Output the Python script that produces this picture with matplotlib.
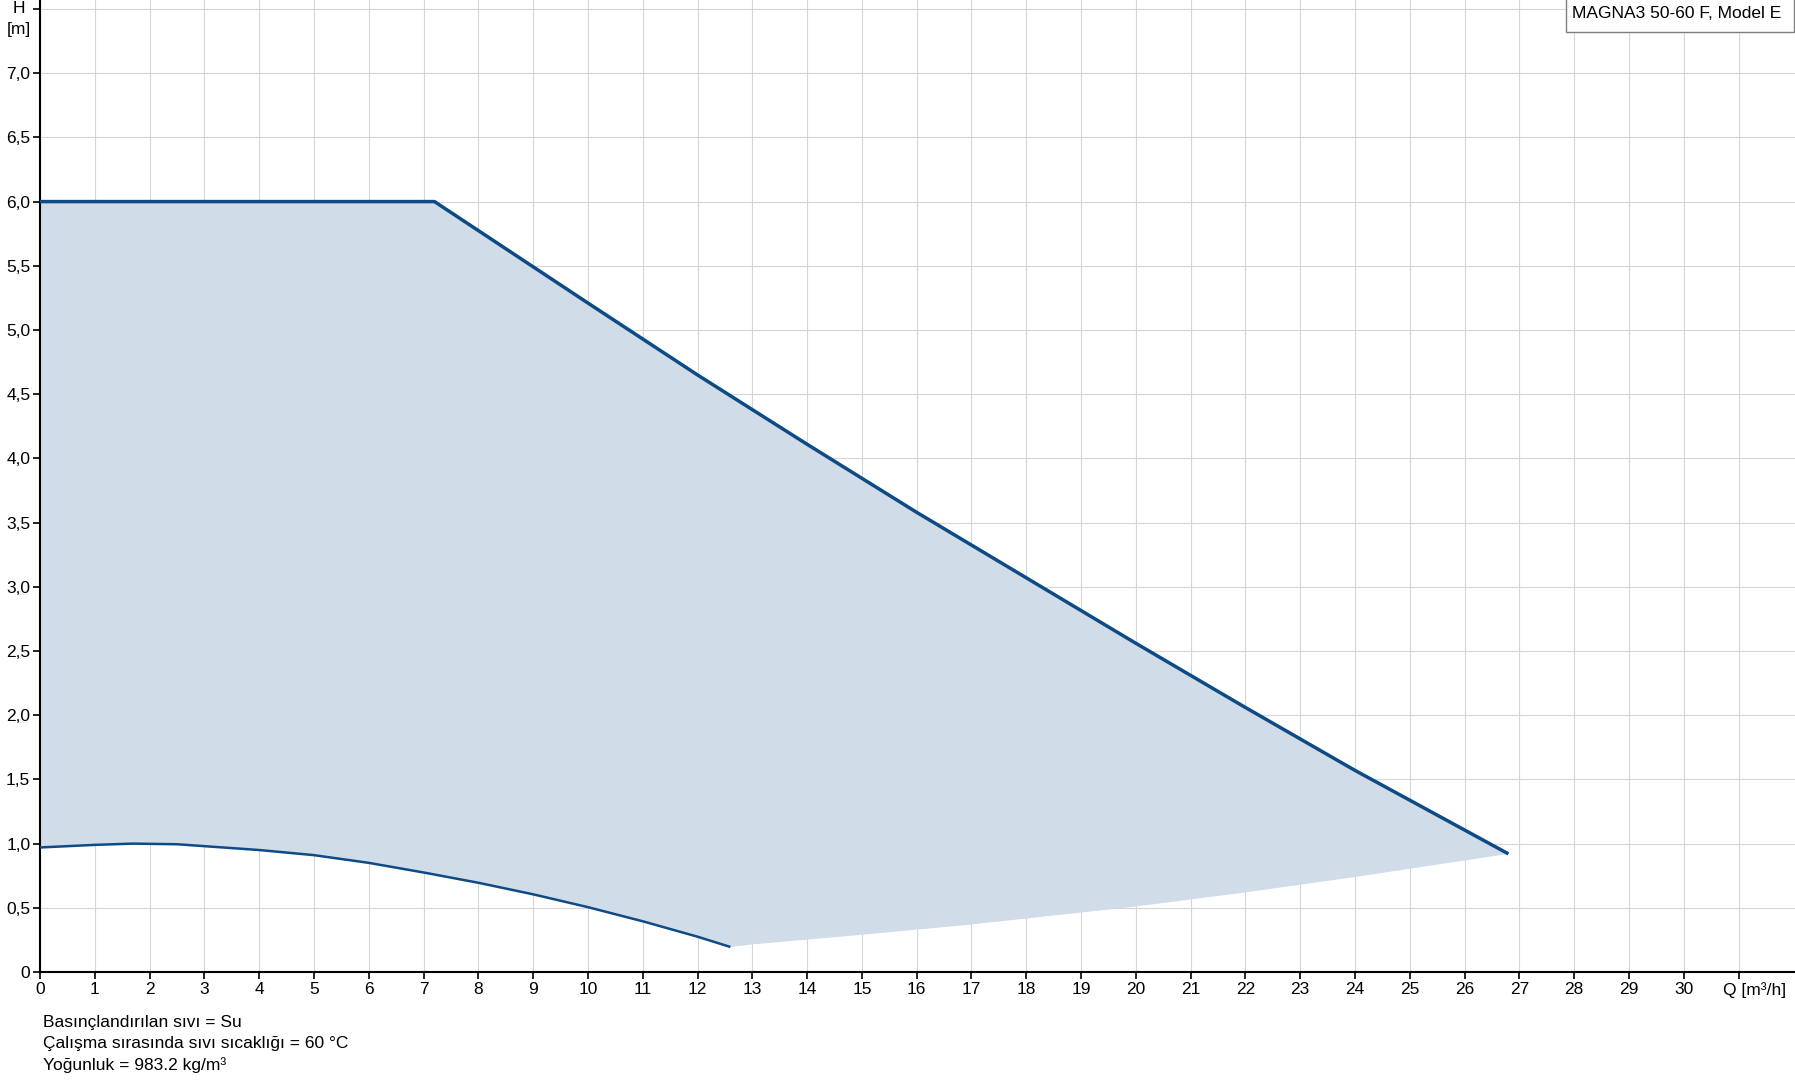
import matplotlib.pyplot as plt
from matplotlib.patches import Rectangle
from matplotlib.transforms import blended_transform_factory

plt.rcParams['font.family'] = ['Liberation Sans', 'DejaVu Sans']

# max curve (Q [m3/h], H [m])
q_max = [0, 7.2, 10, 12, 14, 16, 18, 20, 22, 24, 26.8]
h_max = [6.0, 6.0, 5.21, 4.65, 4.11, 3.58, 3.07, 2.56, 2.06, 1.57, 0.92]

# min curve
q_min = [0, 1, 1.7, 2.5, 3, 4, 5, 6, 7, 8, 9, 10, 11, 12, 12.6]
h_min = [0.97, 0.99, 1.0, 0.995, 0.98, 0.95, 0.91, 0.85, 0.775, 0.695, 0.605, 0.505, 0.395, 0.275, 0.195]

# lower edge of the shaded area (from end of min curve to end of max curve)
q_edge = [12.6, 13, 15, 17, 20, 22, 24, 26.8]
h_edge = [0.195, 0.215, 0.29, 0.37, 0.51, 0.62, 0.74, 0.92]

x_ticks = list(range(0, 32))
x_labels = [str(v) for v in range(0, 31)] + ['']
y_ticks = [i * 0.5 for i in range(16)]
y_labels = ['0'] + [f'{v:.1f}'.replace('.', ',') for v in y_ticks[1:-1]] + ['']

footer = ['Basınçlandırılan sıvı = Su',
          'Çalışma sırasında sıvı sıcaklığı = 60 °C',
          'Yoğunluk = 983.2 kg/m³']

W, H = 1795, 1081
fig = plt.figure(figsize=(W / 100, H / 100), dpi=100)
ax = fig.add_axes([40 / W, (H - 972) / H, 1 - 40 / W, 972 / H])

line_col = '#0D4A86'
fill_col = '#D0DCE7'

poly_q = q_max + q_edge[::-1] + q_min[::-1]
poly_h = h_max + h_edge[::-1] + h_min[::-1]
ax.fill(poly_q, poly_h, color=fill_col, lw=0, zorder=1)
ax.plot(q_max, h_max, color=line_col, lw=2.5, zorder=3, solid_capstyle='butt')
ax.plot(q_min, h_min, color=line_col, lw=1.8, zorder=3, solid_capstyle='butt')

ax.set_xlim(0, 32.03)
ax.set_ylim(0, 7.57)
ax.set_xticks(x_ticks)
ax.set_xticklabels(x_labels)
ax.set_yticks(y_ticks)
ax.set_yticklabels(y_labels)
ax.tick_params(axis='both', direction='out', length=5, width=1.2, labelsize=12.5,
               colors='black', pad=2)
ax.grid(True, color='#D6D6D6', lw=0.8, zorder=0)
ax.set_axisbelow(True)
for s in ['top', 'right']:
    ax.spines[s].set_visible(False)
for s in ['left', 'bottom']:
    ax.spines[s].set_linewidth(1.5)

# axis unit labels
ax.annotate('H', xy=(0, 7.5), xycoords=('axes fraction', 'data'),
            xytext=(-21, 0), textcoords='offset pixels', ha='center', va='center', fontsize=12.5)
ax.annotate('[m]', xy=(0, 7.5), xycoords=('axes fraction', 'data'),
            xytext=(-21, -21), textcoords='offset pixels', ha='center', va='center', fontsize=12.5)
trans = blended_transform_factory(ax.transData, ax.transAxes)
ax.annotate('Q [m³/h]', xy=(31.3, 0), xycoords=trans, xytext=(0, -10),
            textcoords='offset pixels', ha='center', va='top', fontsize=12.5)

# model box
fig.add_artist(Rectangle((1566 / W, 1 - 32 / H), 228 / W, 0.05, transform=fig.transFigure,
                         facecolor='white', edgecolor='#7F7F7F', lw=1, zorder=5))
fig.text(1572 / W, 1 - 14 / H, 'MAGNA3 50-60 F, Model E', ha='left', va='center',
         fontsize=12.5, zorder=6)

for i, t in enumerate(footer):
    fig.text(43 / W, 1 - (1022 + 21.5 * i) / H, t, ha='left', va='center', fontsize=12.5)

fig.savefig('out.png', dpi=100)
